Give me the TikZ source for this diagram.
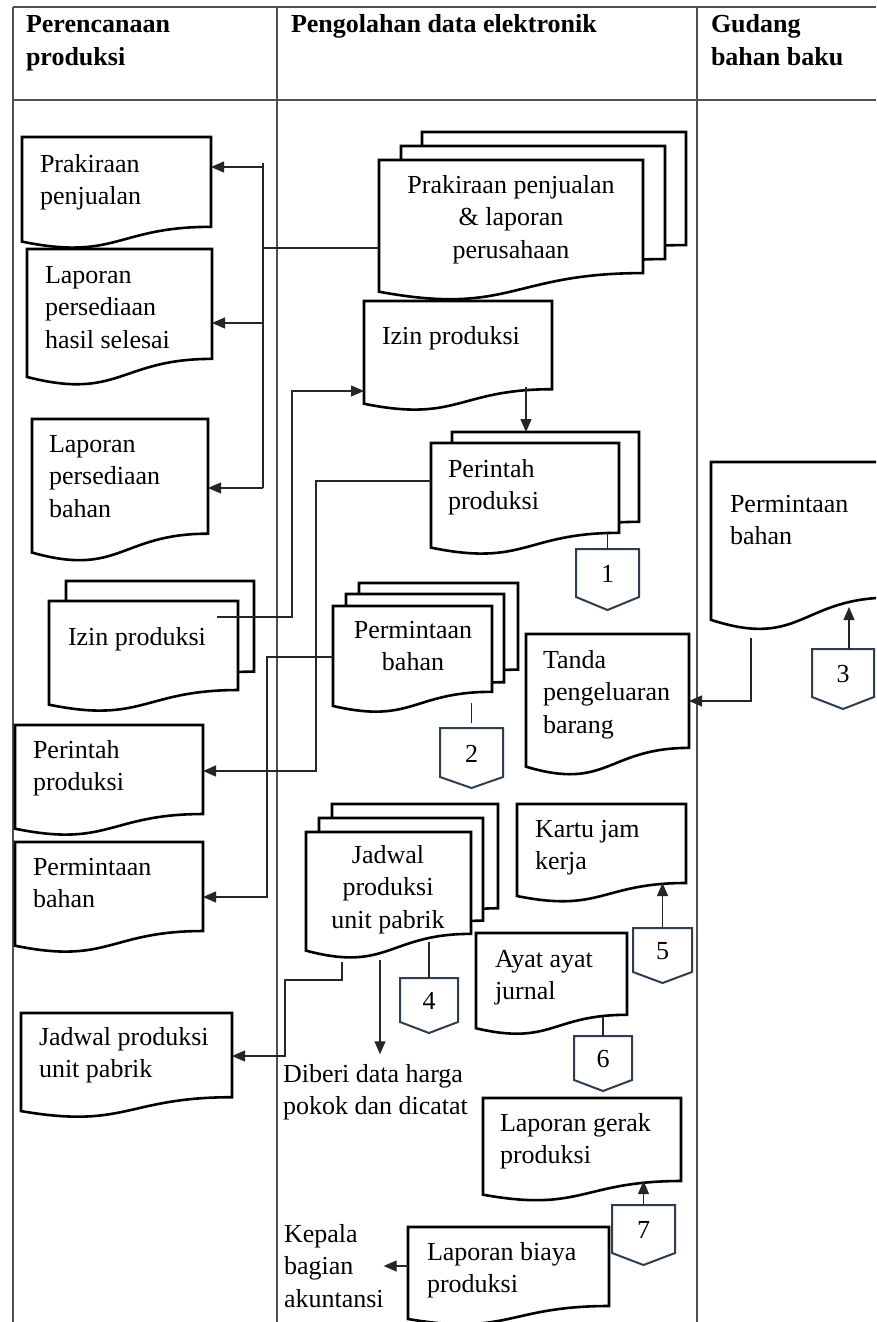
\documentclass[tikz,border=0pt]{standalone}
\usepackage{fontspec}
\setmainfont{Liberation Serif}
\usetikzlibrary{arrows.meta}

\definecolor{tableline}{HTML}{505050}
\definecolor{connline}{HTML}{262626}
\definecolor{offpage}{HTML}{2E3D4F}

\tikzset{
  grid/.style={draw=tableline, line width=1.5pt},
  docline/.style={draw=black, line width=2.6pt, fill=white, line join=miter},
  docbox/.style={inner sep=0pt, outer sep=0pt, anchor=north west},
  conn/.style={draw=connline, line width=1.2pt},
  arr/.style={conn, -{Triangle[length=13pt,width=11pt]}},
  offline/.style={draw=offpage, line width=2pt, fill=white, line join=miter},
  txt/.style={inner sep=0pt, outer sep=0pt, font=\fontsize{26}{32.5}\selectfont},
  head/.style={inner sep=0pt, outer sep=0pt, font=\fontsize{26}{32.5}\selectfont\bfseries},
}

% multi-line text whose baseline is the first line
\newcommand\leftlines[1]{\begin{tabular}[t]{@{}l@{}}#1\end{tabular}}
\newcommand\midlines[1]{\begin{tabular}[t]{@{}c@{}}#1\end{tabular}}

% document symbol: name, left, top, width, height
\newcommand\docshape[5]{%
  \pgfmathsetmacro\docR{#2+#4}%
  \pgfmathsetmacro\docB{#3+0.802*#5}%
  \pgfmathsetmacro\docL{#3+0.934*#5}%
  \pgfmathsetmacro\docC{#3+1.1075*#5}%
  \pgfmathsetmacro\docM{#2+0.5*#4}%
  \path[docline] (#2,#3) -- (\docR,#3) -- (\docR,\docB)
     .. controls (\docM,\docB) and (\docM,\docC) .. (#2,\docL) -- cycle;
  \node[docbox, minimum width=#4pt, minimum height=#5pt] (#1) at (#2,#3) {};
}

% off-page connector: name, left, top, width, side height, tip depth, label
\newcommand\offconn[7]{%
  \pgfmathsetmacro\ofR{#2+#4}%
  \pgfmathsetmacro\ofS{#3+#5}%
  \pgfmathsetmacro\ofM{#2+0.5*#4}%
  \pgfmathsetmacro\ofT{#3+#5+#6}%
  \path[offline] (#2,#3) -- (\ofR,#3) -- (\ofR,\ofS) -- (\ofM,\ofT) -- (#2,\ofS) -- cycle;
  \node[docbox, minimum width=#4pt, minimum height=#5pt] (#1) at (#2,#3) {};
  \node[txt] (#1-t) at ([yshift=-1pt]#1.center) {#7};
}

\begin{document}
\begin{tikzpicture}[x=1pt, y=-1pt]
\useasboundingbox (0,0) rectangle (876,1322);
\fill[white] (0,0) rectangle (876,1322);
\clip (0,0) rectangle (876,1322);

% swimlane table
\draw[grid] (13,7) -- (876,7);
\draw[grid] (13,100) -- (876,100);
\draw[grid] (13,7) -- (13,1322);
\draw[grid] (277,7) -- (277,1322);
\draw[grid] (697,7) -- (697,1322);

\node[head, anchor=base west] (h1) at (26,33) {\leftlines{Perencanaan\\produksi}};
\node[head, anchor=base west] (h2) at (291,33) {Pengolahan data elektronik};
\node[head, anchor=base west] (h3) at (711,33) {\leftlines{Gudang\\bahan baku}};

% --- Perencanaan produksi ---
\docshape{pp1}{22}{137}{189}{112}
\node[txt, anchor=base west] (pp1-t) at (40,172) {\leftlines{Prakiraan\\penjualan}};

\docshape{lphs}{27}{249}{185}{137}
\node[txt, anchor=base west] (lphs-t) at (45,283) {\leftlines{Laporan\\persediaan\\hasil selesai}};

\docshape{lpb}{32}{419}{176}{143}
\node[txt, anchor=base west] (lpb-t) at (49,452) {\leftlines{Laporan\\persediaan\\bahan}};

\docshape{izinLb}{66}{581}{188}{113}
\docshape{izinL}{49}{601}{189}{111}
\node[txt, anchor=base west] (izinL-t) at (68,645) {Izin produksi};

\docshape{perL}{15}{725}{188}{111}
\node[txt, anchor=base west] (perL-t) at (33,758) {\leftlines{Perintah\\produksi}};

\docshape{permL}{15}{842}{188}{111}
\node[txt, anchor=base west] (permL-t) at (33,875) {\leftlines{Permintaan\\bahan}};

\docshape{jadL}{21}{1013}{211}{105}
\node[txt, anchor=base west] (jadL-t) at (39,1045) {\leftlines{Jadwal produksi\\unit pabrik}};

% --- Pengolahan data elektronik ---
\docshape{tric}{422}{132}{264}{141}
\docshape{trib}{401}{146}{264}{141}
\docshape{tri}{379}{160}{264}{141}
\node[txt, anchor=base] (tri-t) at (511,193) {\midlines{Prakiraan penjualan\\\& laporan\\perusahaan}};

\docshape{izinM}{364}{301}{188}{110}
\node[txt, anchor=base west] (izinM-t) at (382,344) {Izin produksi};

\docshape{perMb}{452}{432}{187}{112}
\docshape{perM}{431}{443}{188}{112}
\node[txt, anchor=base west] (perM-t) at (448,477) {\leftlines{Perintah\\produksi}};

\docshape{permMc}{359}{583}{159}{108}
\docshape{permMb}{346}{594}{158}{110}
\docshape{permM}{333}{606}{159}{107}
\node[txt, anchor=base] (permM-t) at (413,638) {\midlines{Permintaan\\bahan}};

\docshape{tanda}{526}{634}{163}{142}
\node[txt, anchor=base west] (tanda-t) at (543,668) {\leftlines{Tanda\\pengeluaran\\barang}};

\docshape{jadMc}{332}{804}{166}{130}
\docshape{jadMb}{319}{818}{164}{128}
\docshape{jadM}{306}{832}{165}{127}
\node[txt, anchor=base] (jadM-t) at (388,863) {\midlines{Jadwal\\produksi\\unit pabrik}};

\docshape{kartu}{517}{804}{169}{98.5}
\node[txt, anchor=base west] (kartu-t) at (535,837) {\leftlines{Kartu jam\\kerja}};

\docshape{ayat}{476}{933}{151}{102}
\node[txt, anchor=base west] (ayat-t) at (495,967) {\leftlines{Ayat ayat\\jurnal}};

\docshape{lgp}{483}{1098}{198}{103.5}
\node[txt, anchor=base west] (lgp-t) at (500,1131) {\leftlines{Laporan gerak\\produksi}};

\docshape{lbp}{408}{1227}{201}{98.5}
\node[txt, anchor=base west] (lbp-t) at (427,1260) {\leftlines{Laporan biaya\\produksi}};

\node[txt, anchor=base west] (diberi) at (283,1082) {\leftlines{Diberi data harga\\pokok dan dicatat}};
\node[txt, anchor=base west] (kepala) at (284,1242) {\leftlines{Kepala\\bagian\\akuntansi}};

% --- Gudang bahan baku ---
\docshape{permR}{711}{462}{180}{169}
\node[txt, anchor=base west] (permR-t) at (730,512) {\leftlines{Permintaan\\bahan}};

% off-page connectors
\offconn{c1}{576}{549}{63}{48}{13}{1}
\offconn{c2}{440}{728}{63}{49}{11}{2}
\offconn{c3}{812}{649}{62}{48}{12}{3}
\offconn{c4}{400}{978}{58}{44}{11}{4}
\offconn{c5}{633}{928}{59}{44}{11}{5}
\offconn{c6}{574}{1036}{58}{44}{11}{6}
\offconn{c7}{612}{1205}{63}{48}{12}{7}

% --- flows ---
% forecast and reports distributed to planning
\coordinate (tri-out) at ([yshift=-88pt]tri.north west);
\coordinate (trunk-top) at (263,163);
\coordinate (pp1-in) at ([yshift=-30pt]pp1.north east);
\coordinate (lphs-in) at ([yshift=-74pt]lphs.north east);
\coordinate (lpb-in) at ([yshift=-69pt]lpb.north east);
\draw[conn] (trunk-top) -- (trunk-top |- lpb-in);
\draw[conn] (tri-out) -- (tri-out -| trunk-top);
\draw[arr] (trunk-top |- pp1-in) -- (pp1-in);
\draw[arr] (trunk-top |- lphs-in) -- (lphs-in);
\draw[arr] (trunk-top |- lpb-in) -- (lpb-in);

% production permit
\coordinate (izinL-out) at ([xshift=168pt,yshift=-16pt]izinL.north west);
\coordinate (izinM-in) at ([yshift=-90pt]izinM.north west);
\draw[arr] (izinL-out) -- ++(75,0) |- (izinM-in);

\coordinate (izinM-out) at ([xshift=162pt,yshift=-86pt]izinM.north west);
\draw[arr] (izinM-out) -- (izinM-out |- perMb.north);

% production order
\coordinate (perM-out) at ([yshift=-38pt]perM.north west);
\coordinate (perL-in) at ([yshift=-46pt]perL.north east);
\draw[arr] (perM-out) -- ++(-115,0) |- (perL-in);

\coordinate (perM-bot) at ([yshift=-90pt]perM.north west);
\draw[conn] (c1.north |- perM-bot) -- (c1.north);

% material request
\coordinate (permM-out) at ([yshift=-51pt]permM.north west);
\coordinate (permL-in) at ([yshift=-55pt]permL.north east);
\draw[arr] (permM-out) -- ++(-66,0) |- (permL-in);

\coordinate (permM-bot) at ([yshift=-97pt]permM.north west);
\draw[conn, shorten >=5pt] (c2.north |- permM-bot) -- (c2.north);

% factory schedule
\coordinate (jadM-out) at ([xshift=36pt,yshift=-130pt]jadM.north west);
\coordinate (jadL-in) at ([yshift=-43pt]jadL.north east);
\draw[arr] (jadM-out) |- ++(-57,18) |- (jadL-in);

\coordinate (jadM-down) at ([xshift=74pt,yshift=-128pt]jadM.north west);
\draw[arr, shorten >=5pt] (jadM-down) -- (jadM-down |- diberi.north);

\coordinate (jadM-bot) at ([yshift=-110pt]jadM.north west);
\draw[conn] (c4.north |- jadM-bot) -- (c4.north);

% time cards, journal, reports
\coordinate (kartu-in) at ([yshift=-79pt]kartu.north west);
\draw[arr] (c5.north) -- (c5.north |- kartu-in);

\coordinate (ayat-bot) at ([yshift=-84pt]ayat.north west);
\draw[conn] (c6.north |- ayat-bot) -- (c6.north);

\coordinate (lgp-in) at ([yshift=-83pt]lgp.north west);
\draw[arr] (c7.north) -- (c7.north |- lgp-in);

\coordinate (lbp-out) at ([yshift=-39pt]lbp.north west);
\draw[arr] (lbp-out) -- (lbp-out -| kepala.east);

% warehouse
\coordinate (permR-in) at ([xshift=138pt,yshift=-145pt]permR.north west);
\draw[arr] (c3.north -| permR-in) -- (permR-in);

\coordinate (permR-out) at ([xshift=40pt,yshift=-176pt]permR.north west);
\coordinate (tanda-in) at ([yshift=-67pt]tanda.north east);
\draw[arr] (permR-out) |- (tanda-in);
\end{tikzpicture}
\end{document}
